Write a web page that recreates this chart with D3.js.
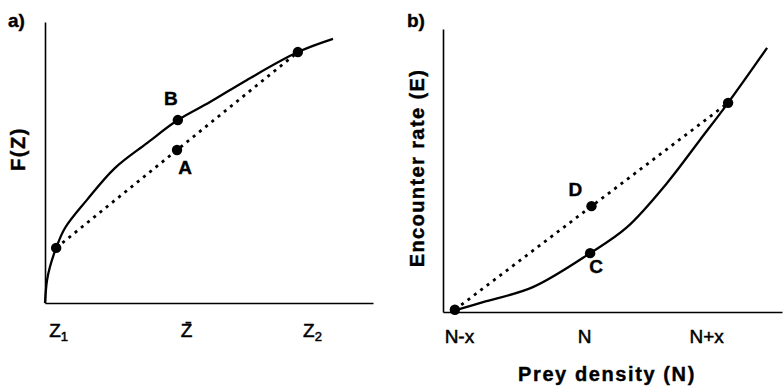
<!DOCTYPE html>
<html lang="en"><head>
<meta charset="utf-8">
<title>Jensen's inequality panels</title>
<script type="text/javascript" src="https://cdn.jsdelivr.net/npm/d3@7/dist/d3.min.js"></script>
<style type="text/css">
  body { margin: 0; background: #fff; }
  text { font-family: "Liberation Sans", Arial, sans-serif; fill: #000; }
  .heavy { font-weight: bold; stroke: #000; stroke-width: 0.4px; }
</style>
</head>
<body>
<script type="text/javascript">

var width = 783;
var height = 392;

// panel a) concave F(Z)
var aCurveX = [0, 0.6, 1.5, 3.4, 6.1, 12.8, 21.3, 31.1, 40.5, 50.3, 61.6, 77.1, 87.8];
var aCurveY = [0, 8, 12.8, 19.6, 26.7, 36.7, 48.0, 56.9, 65.1, 71.5, 79.4, 89.3, 94.0];
var aChordX = [3.4, 77.1];
var aChordY = [19.6, 89.3];
var aDotX = [3.4, 40.5, 40.25, 77.1];
var aDotY = [19.6, 65.1, 54.45, 89.3];
var aTickVals = [4.0, 43.0, 81.4];
var aTickLabels = [["Z", "1"], ["Z\u0304", ""], ["Z", "2"]];

// panel b) convex encounter rate
var bCurveX = [3.5, 11.8, 26.5, 43.4, 54.3, 66.1, 75.8, 84.1, 95.6];
var bCurveY = [0.6, 3.5, 8.8, 20.8, 30.0, 45.6, 60.8, 73.9, 93.3];
var bChordX = [3.5, 84.1];
var bChordY = [0.8, 73.9];
var bDotX = [3.5, 43.4, 43.8, 84.1];
var bDotY = [0.8, 20.8, 37.4, 73.9];
var bTickVals = [4.7, 41.6, 77.6];
var bTickLabels = [["N-x", ""], ["N", ""], ["N+x", ""]];

var svg = d3.select("body").append("svg").attr("width", width).attr("height", height);

var xA = d3.scaleLinear().domain([0, 100]).range([45, 373]);
var yA = d3.scaleLinear().domain([0, 100]).range([303, 22]);
var xB = d3.scaleLinear().domain([0, 100]).range([443, 782]);
var yB = d3.scaleLinear().domain([0, 100]).range([312, 29]);

function zip(xs, ys) { return xs.map(function(d, i) { return [d, ys[i]]; }); }

function drawPanel(x, y, curve, chord, dots, tickVals, tickLabels, tickY) {
    var g = svg.append("g");

    var xAxis = d3.axisBottom(x).tickValues(tickVals).tickSize(0).tickSizeOuter(0).tickFormat("");
    var gX = g.append("g").attr("transform", "translate(0," + y.range()[0] + ")").call(xAxis);
    gX.select(".domain").attr("stroke", "#000").attr("stroke-width", 1.6);
    gX.selectAll(".tick text").each(function(d, i) {
        var t = d3.select(this).attr("y", tickY).attr("dy", null)
            .attr("font-size", "19px").attr("fill", "#000")
            .attr("stroke", "#000").attr("stroke-width", 0.5);
        t.text(tickLabels[i][0]);
        if (tickLabels[i][1]) {
            t.append("tspan").attr("font-size", "13px").attr("dy", 4).text(tickLabels[i][1]);
        }
    });

    var yAxis = d3.axisLeft(y).tickValues([]).tickSizeOuter(0);
    var gY = g.append("g").attr("transform", "translate(" + x.range()[0] + ",0)").call(yAxis);
    gY.select(".domain").attr("stroke", "#000").attr("stroke-width", 1.6);

    var line = d3.line().x(function(d) { return x(d[0]); }).y(function(d) { return y(d[1]); });

    g.append("path").datum(chord).attr("d", line).attr("fill", "none")
        .attr("stroke", "#000").attr("stroke-width", 2.8)
        .attr("stroke-dasharray", "3,5");

    g.append("path").datum(curve).attr("d", line.curve(d3.curveCatmullRom.alpha(0.5))).attr("fill", "none")
        .attr("stroke", "#000").attr("stroke-width", 2.3);

    g.selectAll("circle").data(dots).enter().append("circle")
        .attr("cx", function(d) { return x(d[0]); })
        .attr("cy", function(d) { return y(d[1]); })
        .attr("r", 5.2).attr("fill", "#000");
    return g;
}

var gA = drawPanel(xA, yA, zip(aCurveX, aCurveY), zip(aChordX, aChordY), zip(aDotX, aDotY), aTickVals, aTickLabels, 34);
var gB = drawPanel(xB, yB, zip(bCurveX, bCurveY), zip(bChordX, bChordY), zip(bDotX, bDotY), bTickVals, bTickLabels, 31);

// point letters
function letter(g, txt, px, py) {
    g.append("text").attr("class", "heavy").attr("x", px).attr("y", py).attr("text-anchor", "middle")
        .attr("font-size", "19px").text(txt);
}
letter(gA, "B", xA(aDotX[1]) - 7, yA(aDotY[1]) - 15);
letter(gA, "A", xA(aDotX[2]) + 8, yA(aDotY[2]) + 24);
letter(gB, "C", xB(bDotX[1]) + 6, yB(bDotY[1]) + 20);
letter(gB, "D", xB(bDotX[2]) - 16, yB(bDotY[2]) - 10);

// panel tags and axis titles
svg.append("text").attr("class", "heavy").attr("x", 8).attr("y", 27).attr("font-size", "19px").text("a)");
svg.append("text").attr("class", "heavy").attr("x", 407).attr("y", 27).attr("font-size", "19px").text("b)");

svg.append("text").attr("class", "heavy").attr("transform", "translate(25,149) rotate(-90)").attr("text-anchor", "middle")
    .attr("font-size", "20px").attr("letter-spacing", "1.5px").text("F(Z)");
svg.append("text").attr("class", "heavy").attr("transform", "translate(424,168) rotate(-90)").attr("text-anchor", "middle")
    .attr("font-size", "20px").attr("letter-spacing", "1.4px").text("Encounter rate (E)");
svg.append("text").attr("class", "heavy").attr("x", 607).attr("y", 381).attr("text-anchor", "middle")
    .attr("font-size", "20px").attr("letter-spacing", "1.6px").text("Prey density (N)");

</script>
</body>
</html>
